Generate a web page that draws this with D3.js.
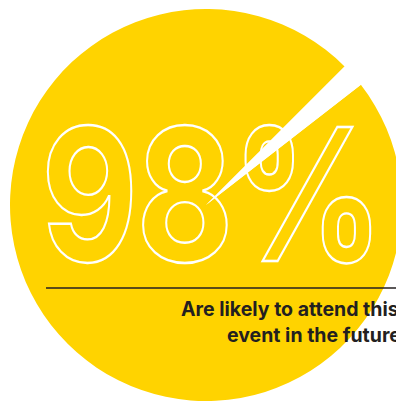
<!DOCTYPE html>
<meta charset="utf-8">
<title>98% attend again</title>
<style>
    body { margin: 0; background: #fff; overflow: hidden; }
    svg { display: block; }
</style>
<body>
<div id="my_chart"></div>
<script src="https://cdn.jsdelivr.net/npm/d3@7"></script>
<script>
    // data
    var categories = ["Likely to attend", "Not likely"];
    var values = [98, 2];
    var bigLabel = "98%";
    var captionLines = ["Are likely to attend this", "event in the future"];

    var width = 396, height = 401;
    var cx = 206, cy = 205, radius = 196;

    var svg = d3.select("#my_chart")
        .append("svg")
        .attr("width", width)
        .attr("height", height);

    // pie turned so the small slice sits up and to the right
    var start = 52.2 * Math.PI / 180;
    var pie = d3.pie()
        .sort(null)
        .startAngle(start)
        .endAngle(start + 2 * Math.PI);

    var arc = d3.arc().innerRadius(0).outerRadius(radius);

    var colour = d3.scaleOrdinal()
        .domain(categories)
        .range(["#FFD300", "#ffffff"]);

    var data = categories.map(function (c, i) { return { key: c, value: values[i] }; });

    svg.append("g")
        .attr("transform", "translate(" + cx + "," + cy + ")")
        .selectAll("path")
        .data(pie.value(function (d) { return d.value; })(data))
        .enter().append("path")
        .attr("d", arc)
        .attr("fill", function (d) { return colour(d.data.key); });

    // big outlined number, stretched sideways to the wide geometric look
    var numG = svg.append("g");
    var num = numG.append("text")
        .attr("x", 0)
        .attr("y", 0)
        .attr("font-family", "Inter, sans-serif")
        .attr("font-weight", 700)
        .attr("font-size", "184px")
        .attr("letter-spacing", "-2px")
        .attr("fill", "none")
        .attr("stroke", "#fff")
        .attr("stroke-width", 2.2)
        .attr("vector-effect", "non-scaling-stroke")
        .text(bigLabel);
    var bb = num.node().getBBox();
    var sx = 341 / bb.width;
    numG.attr("transform", "translate(" + (41 - bb.x * sx) + ",261) scale(" + sx + ",1)");

    // rule under the number
    svg.append("line")
        .attr("x1", 46).attr("x2", width)
        .attr("y1", 288).attr("y2", 288)
        .attr("stroke", "#231f20")
        .attr("stroke-width", 1.5);

    // caption
    var capX = [181, 227];
    svg.selectAll(".caption")
        .data(captionLines)
        .enter().append("text")
        .attr("class", "caption")
        .attr("x", function (d, i) { return capX[i]; })
        .attr("y", function (d, i) { return 316 + i * 26; })
        .attr("font-family", "Inter, sans-serif")
        .attr("font-weight", 700)
        .attr("font-size", "19.5px")
        .attr("fill", "#231f20")
        .text(function (d) { return d; });
</script>
</body>
